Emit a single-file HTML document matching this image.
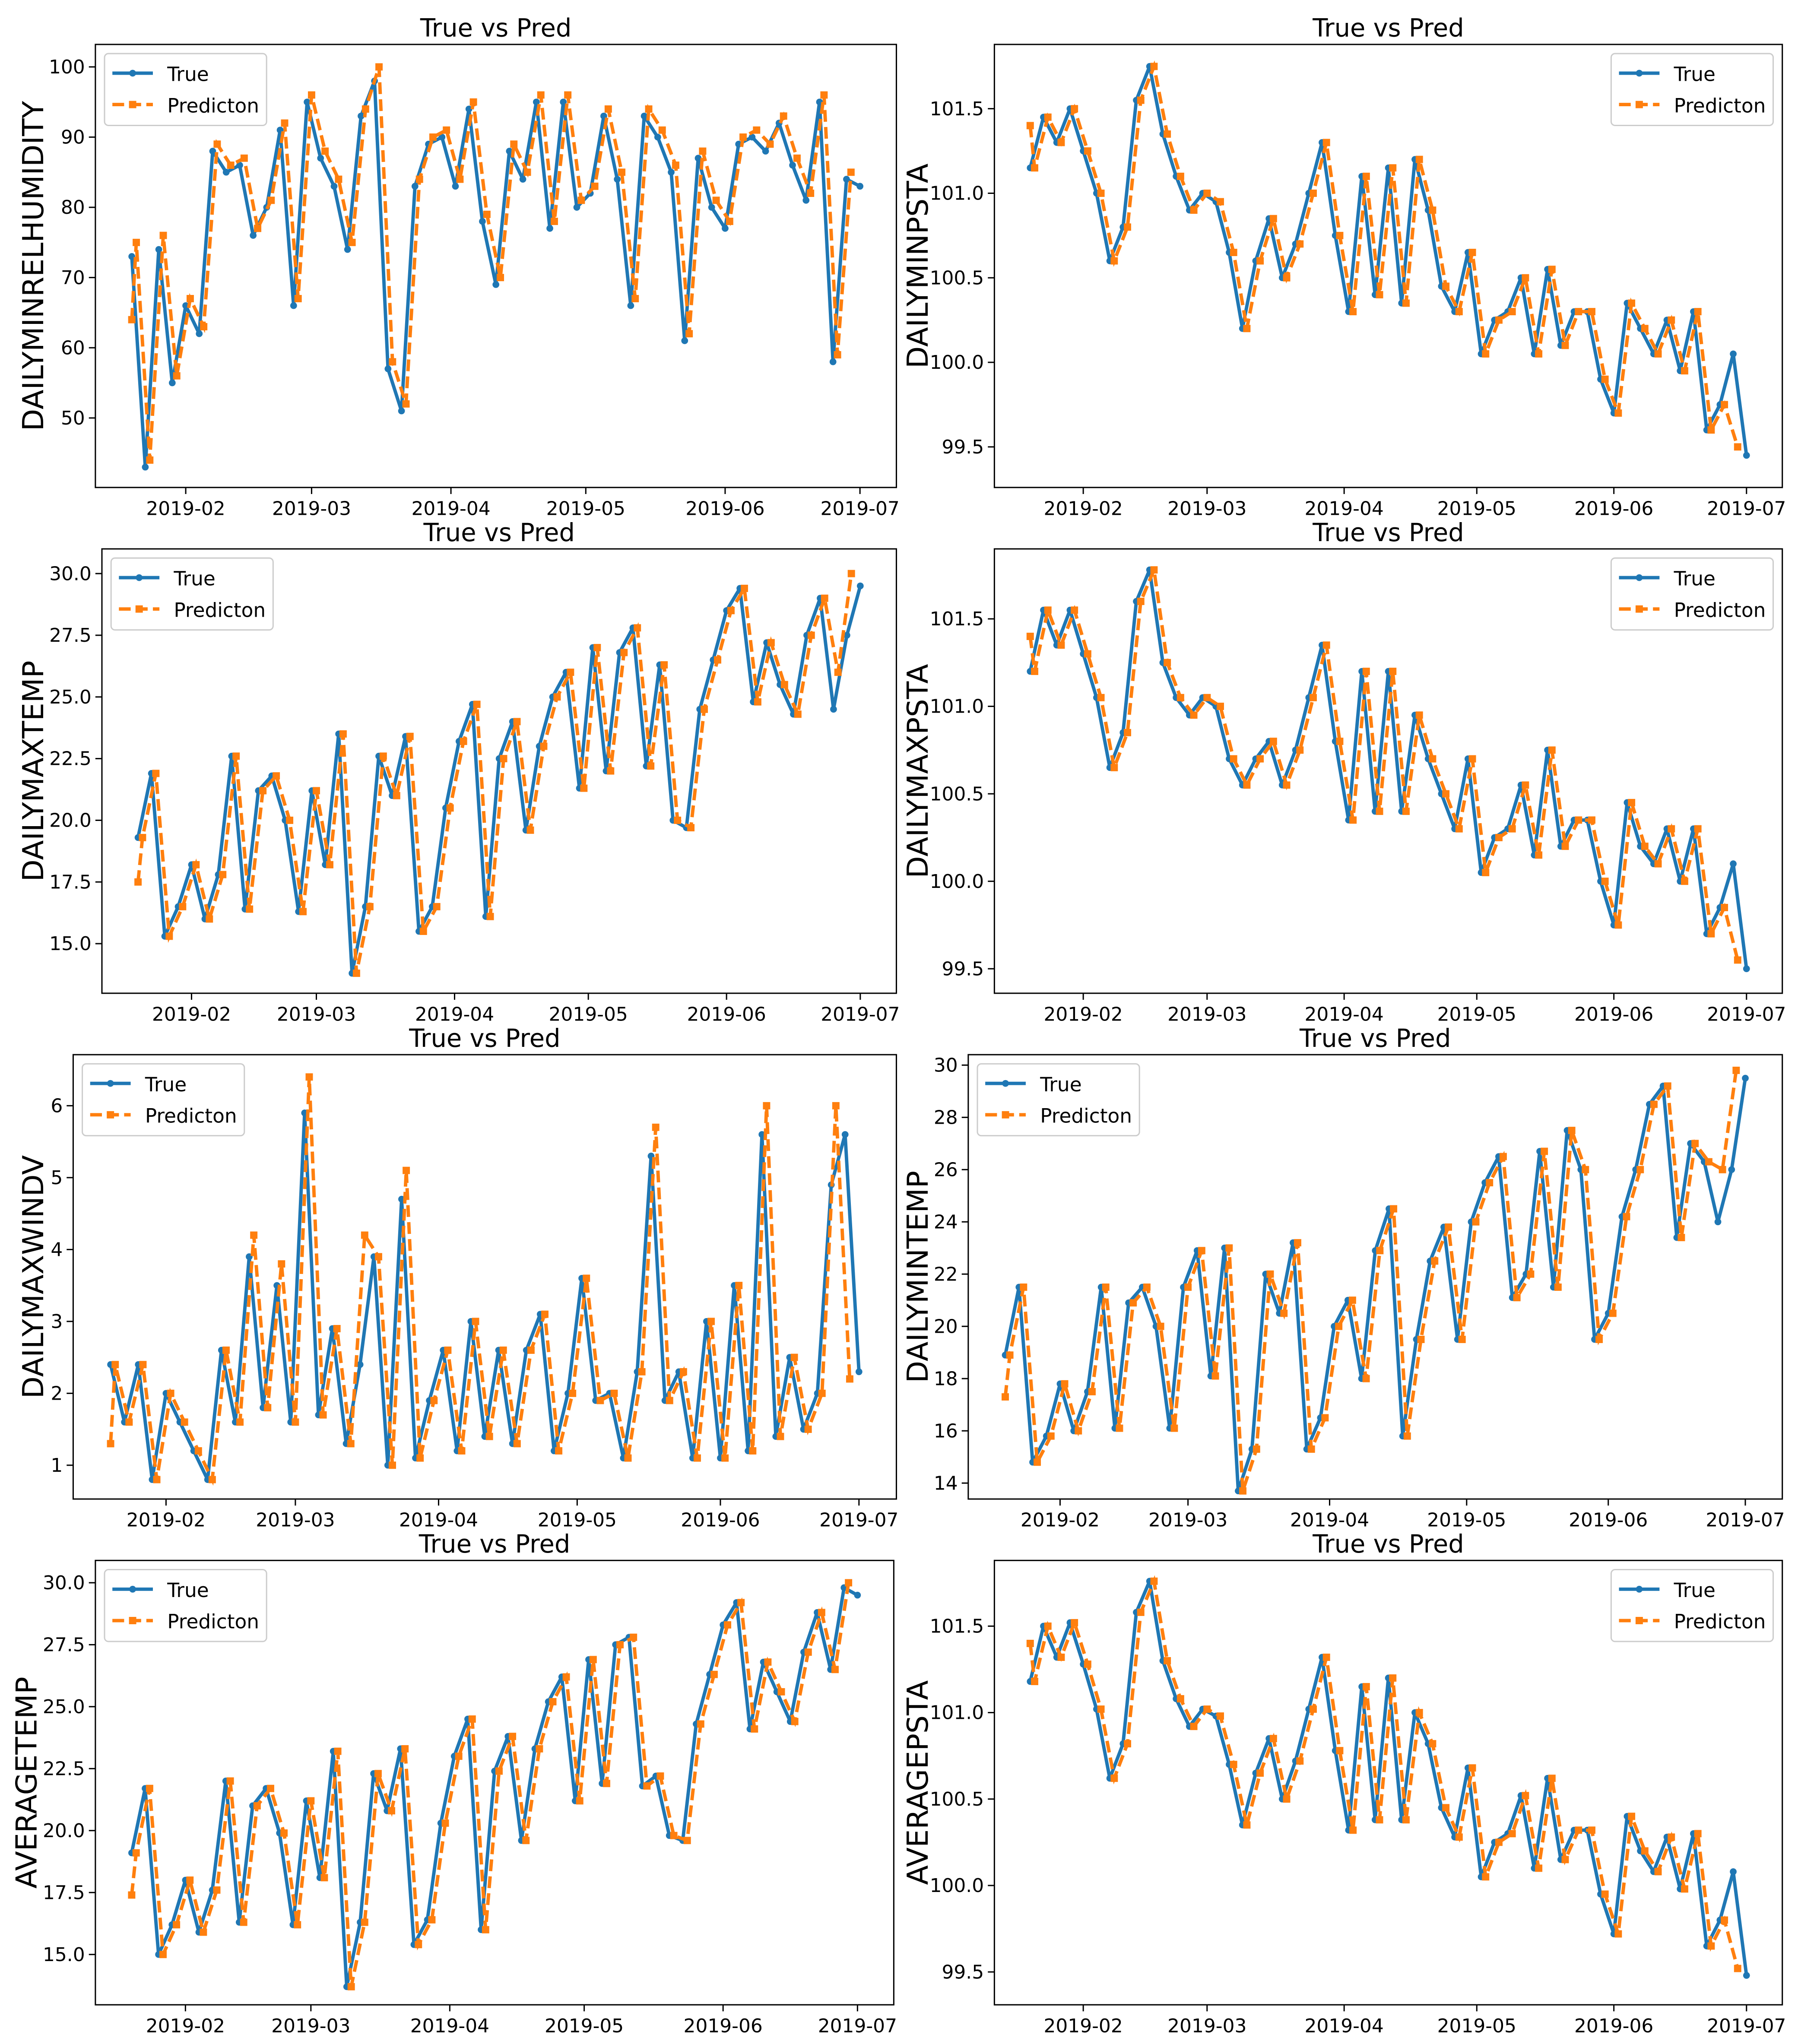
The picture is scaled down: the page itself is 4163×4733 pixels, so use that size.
<!DOCTYPE html>
<html><head><meta charset="utf-8">
<style>html,body{margin:0;padding:0;background:#fff;}svg{display:block;}</style>
</head><body>
<svg id="fig" xmlns="http://www.w3.org/2000/svg" width="4163" height="4733" viewBox="0 0 1376 1564" preserveAspectRatio="none" font-family="'DejaVu Sans','Liberation Sans',sans-serif"></svg>
<script>
// day index 0 = 2019-01-20, sampled every 3 days; predictions sampled 1 day after the true samples
const dayStep = 3;
const predLag = 1;
const dateTickDays = [12, 40, 71, 101, 132, 162];
const dateTickLabels = ["2019-02","2019-03","2019-04","2019-05","2019-06","2019-07"];

const humTrue = [73,43,74,55,66,62,88,85,86,76,80,91,66,95,87,83,74,93,98,57,51,83,89,90,83,94,78,69,88,84,95,77,95,80,82,93,84,66,93,90,85,61,87,80,77,89,90,88,92,86,81,95,58,84,83];
const humPred = [64,75,44,76,56,67,63,89,86,87,77,81,92,67,96,88,84,75,94,100,58,52,84,90,91,84,95,79,70,89,85,96,78,96,81,83,94,85,67,94,91,86,62,88,81,78,90,91,89,93,87,82,96,59,85];
const humTicks = [50,60,70,80,90,100];

const minPstaTrue = [101.15,101.45,101.3,101.5,101.25,101.0,100.6,100.8,101.55,101.75,101.35,101.1,100.9,101.0,100.95,100.65,100.2,100.6,100.85,100.5,100.7,101.0,101.3,100.75,100.3,101.1,100.4,101.15,100.35,101.2,100.9,100.45,100.3,100.65,100.05,100.25,100.3,100.5,100.05,100.55,100.1,100.3,100.3,99.9,99.7,100.35,100.2,100.05,100.25,99.95,100.3,99.6,99.75,100.05,99.45];
const minPstaPred = [101.4,101.15,101.45,101.3,101.5,101.25,101.0,100.6,100.8,101.55,101.75,101.35,101.1,100.9,101.0,100.95,100.65,100.2,100.6,100.85,100.5,100.7,101.0,101.3,100.75,100.3,101.1,100.4,101.15,100.35,101.2,100.9,100.45,100.3,100.65,100.05,100.25,100.3,100.5,100.05,100.55,100.1,100.3,100.3,99.9,99.7,100.35,100.2,100.05,100.25,99.95,100.3,99.6,99.75,99.5];
const pstaTicks = [99.5,100.0,100.5,101.0,101.5];

const maxTempTrue = [19.3,21.9,15.3,16.5,18.2,16.0,17.8,22.6,16.4,21.2,21.8,20.0,16.3,21.2,18.2,23.5,13.8,16.5,22.6,21.0,23.4,15.5,16.5,20.5,23.2,24.7,16.1,22.5,24.0,19.6,23.0,25.0,26.0,21.3,27.0,22.0,26.8,27.8,22.2,26.3,20.0,19.7,24.5,26.5,28.5,29.4,24.8,27.2,25.5,24.3,27.5,29.0,24.5,27.5,29.5];
const maxTempPred = [17.5,19.3,21.9,15.3,16.5,18.2,16.0,17.8,22.6,16.4,21.2,21.8,20.0,16.3,21.2,18.2,23.5,13.8,16.5,22.6,21.0,23.4,15.5,16.5,20.5,23.2,24.7,16.1,22.5,24.0,19.6,23.0,25.0,26.0,21.3,27.0,22.0,26.8,27.8,22.2,26.3,20.0,19.7,24.5,26.5,28.5,29.4,24.8,27.2,25.5,24.3,27.5,29.0,26.0,30.0];
const tempTicks = [15.0,17.5,20.0,22.5,25.0,27.5,30.0];

const maxPstaTrue = [101.2,101.55,101.35,101.55,101.3,101.05,100.65,100.85,101.6,101.78,101.25,101.05,100.95,101.05,101.0,100.7,100.55,100.7,100.8,100.55,100.75,101.05,101.35,100.8,100.35,101.2,100.4,101.2,100.4,100.95,100.7,100.5,100.3,100.7,100.05,100.25,100.3,100.55,100.15,100.75,100.2,100.35,100.35,100.0,99.75,100.45,100.2,100.1,100.3,100.0,100.3,99.7,99.85,100.1,99.5];
const maxPstaPred = [101.4,101.2,101.55,101.35,101.55,101.3,101.05,100.65,100.85,101.6,101.78,101.25,101.05,100.95,101.05,101.0,100.7,100.55,100.7,100.8,100.55,100.75,101.05,101.35,100.8,100.35,101.2,100.4,101.2,100.4,100.95,100.7,100.5,100.3,100.7,100.05,100.25,100.3,100.55,100.15,100.75,100.2,100.35,100.35,100.0,99.75,100.45,100.2,100.1,100.3,100.0,100.3,99.7,99.85,99.55];

const windTrue = [2.4,1.6,2.4,0.8,2.0,1.6,1.2,0.8,2.6,1.6,3.9,1.8,3.5,1.6,5.9,1.7,2.9,1.3,2.4,3.9,1.0,4.7,1.1,1.9,2.6,1.2,3.0,1.4,2.6,1.3,2.6,3.1,1.2,2.0,3.6,1.9,2.0,1.1,2.3,5.3,1.9,2.3,1.1,3.0,1.1,3.5,1.2,5.6,1.4,2.5,1.5,2.0,4.9,5.6,2.3];
const windPred = [1.3,2.4,1.6,2.4,0.8,2.0,1.6,1.2,0.8,2.6,1.6,4.2,1.8,3.8,1.6,6.4,1.7,2.9,1.3,4.2,3.9,1.0,5.1,1.1,1.9,2.6,1.2,3.0,1.4,2.6,1.3,2.6,3.1,1.2,2.0,3.6,1.9,2.0,1.1,2.3,5.7,1.9,2.3,1.1,3.0,1.1,3.5,1.2,6.0,1.4,2.5,1.5,2.0,6.0,2.2];
const windTicks = [1,2,3,4,5,6];

const minTempTrue = [18.9,21.5,14.8,15.8,17.8,16.0,17.5,21.5,16.1,20.9,21.5,20.0,16.1,21.5,22.9,18.1,23.0,13.7,15.3,22.0,20.5,23.2,15.3,16.5,20.0,21.0,18.0,22.9,24.5,15.8,19.5,22.5,23.8,19.5,24.0,25.5,26.5,21.1,22.0,26.7,21.5,27.5,26.0,19.5,20.5,24.2,26.0,28.5,29.2,23.4,27.0,26.3,24.0,26.0,29.5];
const minTempPred = [17.3,18.9,21.5,14.8,15.8,17.8,16.0,17.5,21.5,16.1,20.9,21.5,20.0,16.1,21.5,22.9,18.1,23.0,13.7,15.3,22.0,20.5,23.2,15.3,16.5,20.0,21.0,18.0,22.9,24.5,15.8,19.5,22.5,23.8,19.5,24.0,25.5,26.5,21.1,22.0,26.7,21.5,27.5,26.0,19.5,20.5,24.2,26.0,28.5,29.2,23.4,27.0,26.3,26.0,29.8];
const minTempTicks = [14,16,18,20,22,24,26,28,30];

const avgTempTrue = [19.1,21.7,15.0,16.2,18.0,15.9,17.6,22.0,16.3,21.0,21.7,19.9,16.2,21.2,18.1,23.2,13.7,16.3,22.3,20.8,23.3,15.4,16.4,20.3,23.0,24.5,16.0,22.4,23.8,19.6,23.3,25.2,26.2,21.2,26.9,21.9,27.5,27.8,21.8,22.2,19.8,19.6,24.3,26.3,28.3,29.2,24.1,26.8,25.6,24.4,27.2,28.8,26.5,29.8,29.5];
const avgTempPred = [17.4,19.1,21.7,15.0,16.2,18.0,15.9,17.6,22.0,16.3,21.0,21.7,19.9,16.2,21.2,18.1,23.2,13.7,16.3,22.3,20.8,23.3,15.4,16.4,20.3,23.0,24.5,16.0,22.4,23.8,19.6,23.3,25.2,26.2,21.2,26.9,21.9,27.5,27.8,21.8,22.2,19.8,19.6,24.3,26.3,28.3,29.2,24.1,26.8,25.6,24.4,27.2,28.8,26.5,30.0];

const avgPstaTrue = [101.18,101.5,101.32,101.52,101.28,101.02,100.62,100.82,101.58,101.76,101.3,101.08,100.92,101.02,100.98,100.7,100.35,100.65,100.85,100.5,100.72,101.02,101.32,100.78,100.32,101.15,100.38,101.2,100.38,101.0,100.82,100.45,100.28,100.68,100.05,100.25,100.3,100.52,100.1,100.62,100.15,100.32,100.32,99.95,99.72,100.4,100.2,100.08,100.28,99.98,100.3,99.65,99.8,100.08,99.48];
const avgPstaPred = [101.4,101.18,101.5,101.32,101.52,101.28,101.02,100.62,100.82,101.58,101.76,101.3,101.08,100.92,101.02,100.98,100.7,100.35,100.65,100.85,100.5,100.72,101.02,101.32,100.78,100.32,101.15,100.38,101.2,100.38,101.0,100.82,100.45,100.28,100.68,100.05,100.25,100.3,100.52,100.1,100.62,100.15,100.32,100.32,99.95,99.72,100.4,100.2,100.08,100.28,99.98,100.3,99.65,99.8,99.52];

const panels = [
 {id:"humidity",label:"DAILYMINRELHUMIDITY",box:[73,34,686,373],ylim:[40.1,103.2],ticks:humTicks,dec:0,t:humTrue,p:humPred,leg:"left",lx:25},
 {id:"minpsta",label:"DAILYMINPSTA",box:[761,34,1364,373],ylim:[99.26,101.88],ticks:pstaTicks,dec:1,t:minPstaTrue,p:minPstaPred,leg:"right",lx:702},
 {id:"maxtemp",label:"DAILYMAXTEMP",box:[78,420,686,760],ylim:[12.99,31.0],ticks:tempTicks,dec:1,t:maxTempTrue,p:maxTempPred,leg:"left",lx:25},
 {id:"maxpsta",label:"DAILYMAXPSTA",box:[761,420,1364,760],ylim:[99.36,101.9],ticks:pstaTicks,dec:1,t:maxPstaTrue,p:maxPstaPred,leg:"right",lx:702},
 {id:"windv",label:"DAILYMAXWINDV",box:[56,807,686,1147],ylim:[0.53,6.71],ticks:windTicks,dec:0,t:windTrue,p:windPred,leg:"left",lx:25},
 {id:"mintemp",label:"DAILYMINTEMP",box:[741,807,1364,1147],ylim:[13.39,30.4],ticks:minTempTicks,dec:0,t:minTempTrue,p:minTempPred,leg:"left",lx:702},
 {id:"avgtemp",label:"AVERAGETEMP",box:[73,1194,684,1534],ylim:[12.97,30.9],ticks:tempTicks,dec:1,t:avgTempTrue,p:avgTempPred,leg:"left",lx:20},
 {id:"avgpsta",label:"AVERAGEPSTA",box:[761,1194,1364,1534],ylim:[99.31,101.88],ticks:pstaTicks,dec:1,t:avgPstaTrue,p:avgPstaPred,leg:"right",lx:702}
];

const NS="http://www.w3.org/2000/svg";
const svg=document.getElementById("fig");
function mk(tag,attrs,parent){const e=document.createElementNS(NS,tag);for(const k in attrs)e.setAttribute(k,attrs[k]);(parent||svg).appendChild(e);return e;}

panels.forEach(P=>{
  const [x0,y0,x1,y1]=P.box;
  const g=mk("g",{});
  
  
  const last=(P.t.length-1)*dayStep;
  const m=last*0.05;
  const xs=d=>x0+(d+m)/(last+2*m)*(x1-x0);
  const ys=v=>y1-(v-P.ylim[0])/(P.ylim[1]-P.ylim[0])*(y1-y0);
  const pday=i=>Math.max(0,(i-1)*dayStep+predLag);
  const ti=mk("text",{x:(x0+x1)/2,y:y0-6,"text-anchor":"middle","font-size":19,fill:"#000"},g);
  ti.textContent="True vs Pred";
  
  
  const yl=mk("text",{x:0,y:0,"text-anchor":"middle","font-size":22,fill:"#000",transform:`translate(${P.lx+8},${(y0+y1)/2}) rotate(-90)`},g);
  yl.textContent=P.label;
  
  
  P.ticks.forEach(v=>{
    const y=ys(v);
    mk("line",{x1:x0-5,x2:x0,y1:y,y2:y,stroke:"#000","stroke-width":1},g);
    const t=mk("text",{x:x0-8,y:y+5,"text-anchor":"end","font-size":14.5,fill:"#000"},g);
    t.textContent=v.toFixed(P.dec);
    
    
  });
  dateTickDays.forEach((d,i)=>{
    const x=xs(d);
    mk("line",{x1:x,x2:x,y1:y1,y2:y1+5,stroke:"#000","stroke-width":1},g);
    const t=mk("text",{x:x,y:y1+21,"text-anchor":"middle","font-size":14.5,fill:"#000"},g);
    t.textContent=dateTickLabels[i];
    
    
  });
  const cp=mk("clipPath",{id:"c"+P.id},g);
  mk("rect",{x:x0,y:y0,width:x1-x0,height:y1-y0},cp);
  const sg=mk("g",{"clip-path":`url(#c${P.id})`},g);
  const tp=P.t.map((v,i)=>xs(i*dayStep)+","+ys(v)).join(" ");
  const pp=P.p.map((v,i)=>xs(pday(i))+","+ys(v)).join(" ");
  const lt=mk("polyline",{points:tp,fill:"none",stroke:"#1f77b4","stroke-width":2.6,"stroke-linejoin":"round"},sg);
  
  
  P.t.forEach((v,i)=>{const c=mk("circle",{cx:xs(i*dayStep),cy:ys(v),r:2.6,fill:"#1f77b4"},sg);
    
    });
  const lp=mk("polyline",{points:pp,fill:"none",stroke:"#ff7f0e","stroke-width":2.6,"stroke-dasharray":"9,4"},sg);
  
  
  P.p.forEach((v,i)=>{const r=mk("rect",{x:xs(pday(i))-2.8,y:ys(v)-2.8,width:5.6,height:5.6,fill:"#ff7f0e"},sg);
    
    });
  mk("rect",{x:x0,y:y0,width:x1-x0,height:y1-y0,fill:"none",stroke:"#000","stroke-width":1},g);
  const lw=124,lh=55;
  const lx=P.leg==="left"?x0+7:x1-7-lw, ly=y0+7;
  const lg=mk("g",{},g);
  
  
  mk("rect",{x:lx,y:ly,width:lw,height:lh,rx:3,fill:"#fff","fill-opacity":0.8,stroke:"#ccc","stroke-width":1},lg);
  mk("line",{x1:lx+6,x2:lx+37,y1:ly+15,y2:ly+15,stroke:"#1f77b4","stroke-width":2.6},lg);
  mk("circle",{cx:lx+21.5,cy:ly+15,r:2.6,fill:"#1f77b4"},lg);
  const t1=mk("text",{x:lx+48,y:ly+21,"font-size":15,fill:"#000"},lg);t1.textContent="True";
  
  
  mk("line",{x1:lx+6,x2:lx+37,y1:ly+39,y2:ly+39,stroke:"#ff7f0e","stroke-width":2.6,"stroke-dasharray":"9,4"},lg);
  mk("rect",{x:lx+18.7,y:ly+36.2,width:5.6,height:5.6,fill:"#ff7f0e"},lg);
  const t2=mk("text",{x:lx+48,y:ly+45,"font-size":15,fill:"#000"},lg);t2.textContent="Predicton";
  
  
});
</script>
</body></html>
